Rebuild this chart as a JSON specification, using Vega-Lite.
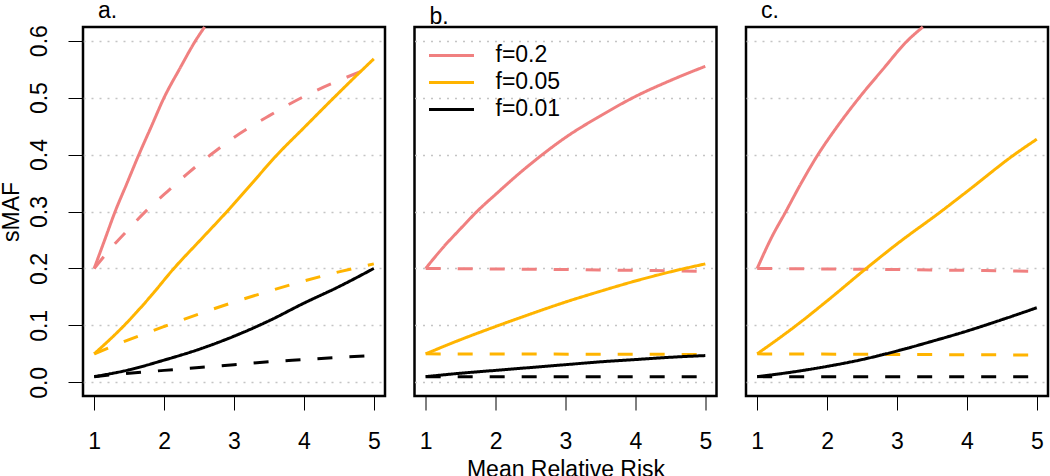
{
  "$schema": "https://vega.github.io/schema/vega-lite/v6.json",
  "padding": {"left": -2, "top": -2, "right": 0, "bottom": 0},
  "config": {
    "font": "Liberation Sans",
    "view": {"stroke": "#000000", "strokeWidth": 2.5},
    "axis": {
      "labelFont": "Liberation Sans", "labelFontSize": 23, "labelColor": "#000000",
      "titleFont": "Liberation Sans", "titleFontSize": 23, "titleColor": "#000000", "titleFontWeight": "normal",
      "tickColor": "#000000", "tickWidth": 1, "domain": false
    },
    "title": {"font": "Liberation Sans", "fontSize": 23, "fontWeight": "normal", "anchor": "start", "color": "#000000", "frame": "group"},
    "line": {"strokeWidth": 3, "clip": true, "interpolate": "monotone"}
  },
  "datasets": {
    "curves": [
      {"p": "a", "f": "f=0.2", "t": "solid", "x": 1, "y": 0.2},
      {"p": "a", "f": "f=0.2", "t": "solid", "x": 1.15, "y": 0.25},
      {"p": "a", "f": "f=0.2", "t": "solid", "x": 1.3, "y": 0.3},
      {"p": "a", "f": "f=0.2", "t": "solid", "x": 1.47, "y": 0.35},
      {"p": "a", "f": "f=0.2", "t": "solid", "x": 1.64, "y": 0.4},
      {"p": "a", "f": "f=0.2", "t": "solid", "x": 1.82, "y": 0.45},
      {"p": "a", "f": "f=0.2", "t": "solid", "x": 2.0, "y": 0.5},
      {"p": "a", "f": "f=0.2", "t": "solid", "x": 2.22, "y": 0.55},
      {"p": "a", "f": "f=0.2", "t": "solid", "x": 2.45, "y": 0.6},
      {"p": "a", "f": "f=0.2", "t": "solid", "x": 2.58, "y": 0.624},

      {"p": "a", "f": "f=0.2", "t": "dashed", "x": 1, "y": 0.2},
      {"p": "a", "f": "f=0.2", "t": "dashed", "x": 1.25, "y": 0.237},
      {"p": "a", "f": "f=0.2", "t": "dashed", "x": 1.5, "y": 0.27},
      {"p": "a", "f": "f=0.2", "t": "dashed", "x": 1.75, "y": 0.302},
      {"p": "a", "f": "f=0.2", "t": "dashed", "x": 2, "y": 0.33},
      {"p": "a", "f": "f=0.2", "t": "dashed", "x": 2.33, "y": 0.366},
      {"p": "a", "f": "f=0.2", "t": "dashed", "x": 2.67, "y": 0.4},
      {"p": "a", "f": "f=0.2", "t": "dashed", "x": 3, "y": 0.43},
      {"p": "a", "f": "f=0.2", "t": "dashed", "x": 3.5, "y": 0.468},
      {"p": "a", "f": "f=0.2", "t": "dashed", "x": 4, "y": 0.502},
      {"p": "a", "f": "f=0.2", "t": "dashed", "x": 4.5, "y": 0.53},
      {"p": "a", "f": "f=0.2", "t": "dashed", "x": 5, "y": 0.555},

      {"p": "a", "f": "f=0.05", "t": "solid", "x": 1, "y": 0.05},
      {"p": "a", "f": "f=0.05", "t": "solid", "x": 1.43, "y": 0.1},
      {"p": "a", "f": "f=0.05", "t": "solid", "x": 1.8, "y": 0.15},
      {"p": "a", "f": "f=0.05", "t": "solid", "x": 2.14, "y": 0.2},
      {"p": "a", "f": "f=0.05", "t": "solid", "x": 2.52, "y": 0.25},
      {"p": "a", "f": "f=0.05", "t": "solid", "x": 2.9, "y": 0.3},
      {"p": "a", "f": "f=0.05", "t": "solid", "x": 3.26, "y": 0.35},
      {"p": "a", "f": "f=0.05", "t": "solid", "x": 3.62, "y": 0.4},
      {"p": "a", "f": "f=0.05", "t": "solid", "x": 4.0, "y": 0.447},
      {"p": "a", "f": "f=0.05", "t": "solid", "x": 4.43, "y": 0.5},
      {"p": "a", "f": "f=0.05", "t": "solid", "x": 4.72, "y": 0.535},
      {"p": "a", "f": "f=0.05", "t": "solid", "x": 5, "y": 0.568},

      {"p": "a", "f": "f=0.05", "t": "dashed", "x": 1, "y": 0.05},
      {"p": "a", "f": "f=0.05", "t": "dashed", "x": 1.5, "y": 0.075},
      {"p": "a", "f": "f=0.05", "t": "dashed", "x": 2, "y": 0.098},
      {"p": "a", "f": "f=0.05", "t": "dashed", "x": 2.5, "y": 0.12},
      {"p": "a", "f": "f=0.05", "t": "dashed", "x": 3, "y": 0.141},
      {"p": "a", "f": "f=0.05", "t": "dashed", "x": 3.5, "y": 0.16},
      {"p": "a", "f": "f=0.05", "t": "dashed", "x": 4, "y": 0.178},
      {"p": "a", "f": "f=0.05", "t": "dashed", "x": 4.5, "y": 0.194},
      {"p": "a", "f": "f=0.05", "t": "dashed", "x": 5, "y": 0.208},

      {"p": "a", "f": "f=0.01", "t": "solid", "x": 1, "y": 0.01},
      {"p": "a", "f": "f=0.01", "t": "solid", "x": 1.5, "y": 0.022},
      {"p": "a", "f": "f=0.01", "t": "solid", "x": 2, "y": 0.039},
      {"p": "a", "f": "f=0.01", "t": "solid", "x": 2.5, "y": 0.058},
      {"p": "a", "f": "f=0.01", "t": "solid", "x": 3, "y": 0.081},
      {"p": "a", "f": "f=0.01", "t": "solid", "x": 3.5, "y": 0.108},
      {"p": "a", "f": "f=0.01", "t": "solid", "x": 4, "y": 0.139},
      {"p": "a", "f": "f=0.01", "t": "solid", "x": 4.5, "y": 0.168},
      {"p": "a", "f": "f=0.01", "t": "solid", "x": 5, "y": 0.2},

      {"p": "a", "f": "f=0.01", "t": "dashed", "x": 1, "y": 0.01},
      {"p": "a", "f": "f=0.01", "t": "dashed", "x": 1.5, "y": 0.016},
      {"p": "a", "f": "f=0.01", "t": "dashed", "x": 2, "y": 0.021},
      {"p": "a", "f": "f=0.01", "t": "dashed", "x": 2.5, "y": 0.026},
      {"p": "a", "f": "f=0.01", "t": "dashed", "x": 3, "y": 0.031},
      {"p": "a", "f": "f=0.01", "t": "dashed", "x": 3.5, "y": 0.036},
      {"p": "a", "f": "f=0.01", "t": "dashed", "x": 4, "y": 0.04},
      {"p": "a", "f": "f=0.01", "t": "dashed", "x": 4.5, "y": 0.044},
      {"p": "a", "f": "f=0.01", "t": "dashed", "x": 5, "y": 0.047},

      {"p": "b", "f": "f=0.2", "t": "solid", "x": 1, "y": 0.2},
      {"p": "b", "f": "f=0.2", "t": "solid", "x": 1.25, "y": 0.237},
      {"p": "b", "f": "f=0.2", "t": "solid", "x": 1.5, "y": 0.27},
      {"p": "b", "f": "f=0.2", "t": "solid", "x": 1.75, "y": 0.302},
      {"p": "b", "f": "f=0.2", "t": "solid", "x": 2, "y": 0.33},
      {"p": "b", "f": "f=0.2", "t": "solid", "x": 2.33, "y": 0.366},
      {"p": "b", "f": "f=0.2", "t": "solid", "x": 2.67, "y": 0.4},
      {"p": "b", "f": "f=0.2", "t": "solid", "x": 3, "y": 0.43},
      {"p": "b", "f": "f=0.2", "t": "solid", "x": 3.5, "y": 0.468},
      {"p": "b", "f": "f=0.2", "t": "solid", "x": 4, "y": 0.502},
      {"p": "b", "f": "f=0.2", "t": "solid", "x": 4.5, "y": 0.53},
      {"p": "b", "f": "f=0.2", "t": "solid", "x": 5, "y": 0.555},

      {"p": "b", "f": "f=0.2", "t": "dashed", "x": 1, "y": 0.2},
      {"p": "b", "f": "f=0.2", "t": "dashed", "x": 3, "y": 0.198},
      {"p": "b", "f": "f=0.2", "t": "dashed", "x": 5, "y": 0.195},

      {"p": "b", "f": "f=0.05", "t": "solid", "x": 1, "y": 0.05},
      {"p": "b", "f": "f=0.05", "t": "solid", "x": 1.5, "y": 0.075},
      {"p": "b", "f": "f=0.05", "t": "solid", "x": 2, "y": 0.098},
      {"p": "b", "f": "f=0.05", "t": "solid", "x": 2.5, "y": 0.12},
      {"p": "b", "f": "f=0.05", "t": "solid", "x": 3, "y": 0.141},
      {"p": "b", "f": "f=0.05", "t": "solid", "x": 3.5, "y": 0.16},
      {"p": "b", "f": "f=0.05", "t": "solid", "x": 4, "y": 0.178},
      {"p": "b", "f": "f=0.05", "t": "solid", "x": 4.5, "y": 0.194},
      {"p": "b", "f": "f=0.05", "t": "solid", "x": 5, "y": 0.208},

      {"p": "b", "f": "f=0.05", "t": "dashed", "x": 1, "y": 0.05},
      {"p": "b", "f": "f=0.05", "t": "dashed", "x": 5, "y": 0.049},

      {"p": "b", "f": "f=0.01", "t": "solid", "x": 1, "y": 0.01},
      {"p": "b", "f": "f=0.01", "t": "solid", "x": 1.5, "y": 0.016},
      {"p": "b", "f": "f=0.01", "t": "solid", "x": 2, "y": 0.021},
      {"p": "b", "f": "f=0.01", "t": "solid", "x": 2.5, "y": 0.026},
      {"p": "b", "f": "f=0.01", "t": "solid", "x": 3, "y": 0.031},
      {"p": "b", "f": "f=0.01", "t": "solid", "x": 3.5, "y": 0.036},
      {"p": "b", "f": "f=0.01", "t": "solid", "x": 4, "y": 0.04},
      {"p": "b", "f": "f=0.01", "t": "solid", "x": 4.5, "y": 0.044},
      {"p": "b", "f": "f=0.01", "t": "solid", "x": 5, "y": 0.047},

      {"p": "b", "f": "f=0.01", "t": "dashed", "x": 1, "y": 0.01},
      {"p": "b", "f": "f=0.01", "t": "dashed", "x": 5, "y": 0.01},

      {"p": "c", "f": "f=0.2", "t": "solid", "x": 1, "y": 0.2},
      {"p": "c", "f": "f=0.2", "t": "solid", "x": 1.2, "y": 0.253},
      {"p": "c", "f": "f=0.2", "t": "solid", "x": 1.41, "y": 0.3},
      {"p": "c", "f": "f=0.2", "t": "solid", "x": 1.63, "y": 0.35},
      {"p": "c", "f": "f=0.2", "t": "solid", "x": 1.87, "y": 0.4},
      {"p": "c", "f": "f=0.2", "t": "solid", "x": 2.15, "y": 0.45},
      {"p": "c", "f": "f=0.2", "t": "solid", "x": 2.46, "y": 0.5},
      {"p": "c", "f": "f=0.2", "t": "solid", "x": 2.8, "y": 0.55},
      {"p": "c", "f": "f=0.2", "t": "solid", "x": 3.15, "y": 0.6},
      {"p": "c", "f": "f=0.2", "t": "solid", "x": 3.37, "y": 0.624},

      {"p": "c", "f": "f=0.2", "t": "dashed", "x": 1, "y": 0.2},
      {"p": "c", "f": "f=0.2", "t": "dashed", "x": 3, "y": 0.198},
      {"p": "c", "f": "f=0.2", "t": "dashed", "x": 5, "y": 0.195},

      {"p": "c", "f": "f=0.05", "t": "solid", "x": 1, "y": 0.05},
      {"p": "c", "f": "f=0.05", "t": "solid", "x": 1.56, "y": 0.1},
      {"p": "c", "f": "f=0.05", "t": "solid", "x": 2, "y": 0.143},
      {"p": "c", "f": "f=0.05", "t": "solid", "x": 2.56, "y": 0.2},
      {"p": "c", "f": "f=0.05", "t": "solid", "x": 3, "y": 0.243},
      {"p": "c", "f": "f=0.05", "t": "solid", "x": 3.63, "y": 0.3},
      {"p": "c", "f": "f=0.05", "t": "solid", "x": 4, "y": 0.335},
      {"p": "c", "f": "f=0.05", "t": "solid", "x": 4.68, "y": 0.4},
      {"p": "c", "f": "f=0.05", "t": "solid", "x": 5, "y": 0.427},

      {"p": "c", "f": "f=0.05", "t": "dashed", "x": 1, "y": 0.05},
      {"p": "c", "f": "f=0.05", "t": "dashed", "x": 5, "y": 0.048},

      {"p": "c", "f": "f=0.01", "t": "solid", "x": 1, "y": 0.01},
      {"p": "c", "f": "f=0.01", "t": "solid", "x": 1.5, "y": 0.018},
      {"p": "c", "f": "f=0.01", "t": "solid", "x": 2, "y": 0.028},
      {"p": "c", "f": "f=0.01", "t": "solid", "x": 2.5, "y": 0.04},
      {"p": "c", "f": "f=0.01", "t": "solid", "x": 3, "y": 0.055},
      {"p": "c", "f": "f=0.01", "t": "solid", "x": 3.5, "y": 0.072},
      {"p": "c", "f": "f=0.01", "t": "solid", "x": 4, "y": 0.09},
      {"p": "c", "f": "f=0.01", "t": "solid", "x": 4.5, "y": 0.11},
      {"p": "c", "f": "f=0.01", "t": "solid", "x": 5, "y": 0.131},

      {"p": "c", "f": "f=0.01", "t": "dashed", "x": 1, "y": 0.01},
      {"p": "c", "f": "f=0.01", "t": "dashed", "x": 5, "y": 0.01}
    ]
  },
  "data": {"name": "curves"},
  "spacing": 29.5,
  "bounds": "flush",
  "resolve": {"legend": {"color": "independent"}},
  "hconcat": [
    {
      "width": 302, "height": 369,
      "title": {"text": "a.", "dx": 15, "offset": -2},
      "transform": [{"filter": "datum.p === 'a'"}],
      "mark": {"type": "line"},
      "encoding": {
        "x": {"field": "x", "type": "quantitative", "scale": {"domain": [0.84, 5.16], "nice": false, "zero": false},
              "axis": {"values": [1, 2, 3, 4, 5], "title": null, "grid": false, "tickSize": 14, "labelPadding": 20}},
        "y": {"field": "y", "type": "quantitative", "scale": {"domain": [-0.024, 0.624], "nice": false, "zero": false},
              "axis": {"values": [0, 0.1, 0.2, 0.3, 0.4, 0.5, 0.6], "format": ".1f", "title": "sMAF", "tickSize": 15,
                       "labelAngle": 270, "labelAlign": "center", "labelBaseline": "bottom", "labelPadding": 17, "titlePadding": 5,
                       "grid": true, "gridColor": "#C4C4C4", "gridDash": [2, 6], "gridWidth": 1.6}},
        "color": {"field": "f", "type": "nominal", "scale": {"domain": ["f=0.2", "f=0.05", "f=0.01"], "range": ["#F08080", "#FFB400", "#000000"]}, "legend": null},
        "strokeDash": {"field": "t", "type": "nominal", "scale": {"domain": ["solid", "dashed"], "range": [[1, 0], [15, 17]]}, "legend": null},
        "detail": {"field": "t"}
      }
    },
    {
      "width": 302, "height": 369,
      "title": {"text": "b.", "dx": 15, "offset": -2},
      "transform": [{"filter": "datum.p === 'b'"}],
      "mark": {"type": "line"},
      "encoding": {
        "x": {"field": "x", "type": "quantitative", "scale": {"domain": [0.84, 5.16], "nice": false, "zero": false},
              "axis": {"values": [1, 2, 3, 4, 5], "title": "Mean Relative Risk", "grid": false, "tickSize": 14, "labelPadding": 20, "titlePadding": 5}},
        "y": {"field": "y", "type": "quantitative", "scale": {"domain": [-0.024, 0.624], "nice": false, "zero": false},
              "axis": {"values": [0, 0.1, 0.2, 0.3, 0.4, 0.5, 0.6], "title": null, "labels": false, "ticks": false,
                       "grid": true, "gridColor": "#C4C4C4", "gridDash": [2, 6], "gridWidth": 1.6}},
        "color": {"field": "f", "type": "nominal", "scale": {"domain": ["f=0.2", "f=0.05", "f=0.01"], "range": ["#F08080", "#FFB400", "#000000"]},
                  "legend": {"title": null, "orient": "none", "legendX": 13, "legendY": 15, "symbolType": "stroke", "symbolSize": 2025,
                             "symbolStrokeWidth": 4.5, "labelFontSize": 23, "labelFont": "Liberation Sans", "labelColor": "#000000",
                             "labelOffset": 20, "clipHeight": 26.8, "rowPadding": 0, "padding": 0}},
        "strokeDash": {"field": "t", "type": "nominal", "scale": {"domain": ["solid", "dashed"], "range": [[1, 0], [15, 17]]}, "legend": null},
        "detail": {"field": "t"}
      }
    },
    {
      "width": 302, "height": 369,
      "title": {"text": "c.", "dx": 15, "offset": -2},
      "transform": [{"filter": "datum.p === 'c'"}],
      "mark": {"type": "line"},
      "encoding": {
        "x": {"field": "x", "type": "quantitative", "scale": {"domain": [0.84, 5.16], "nice": false, "zero": false},
              "axis": {"values": [1, 2, 3, 4, 5], "title": null, "grid": false, "tickSize": 14, "labelPadding": 20}},
        "y": {"field": "y", "type": "quantitative", "scale": {"domain": [-0.024, 0.624], "nice": false, "zero": false},
              "axis": {"values": [0, 0.1, 0.2, 0.3, 0.4, 0.5, 0.6], "title": null, "labels": false, "ticks": false,
                       "grid": true, "gridColor": "#C4C4C4", "gridDash": [2, 6], "gridWidth": 1.6}},
        "color": {"field": "f", "type": "nominal", "scale": {"domain": ["f=0.2", "f=0.05", "f=0.01"], "range": ["#F08080", "#FFB400", "#000000"]}, "legend": null},
        "strokeDash": {"field": "t", "type": "nominal", "scale": {"domain": ["solid", "dashed"], "range": [[1, 0], [15, 17]]}, "legend": null},
        "detail": {"field": "t"}
      }
    }
  ]
}
